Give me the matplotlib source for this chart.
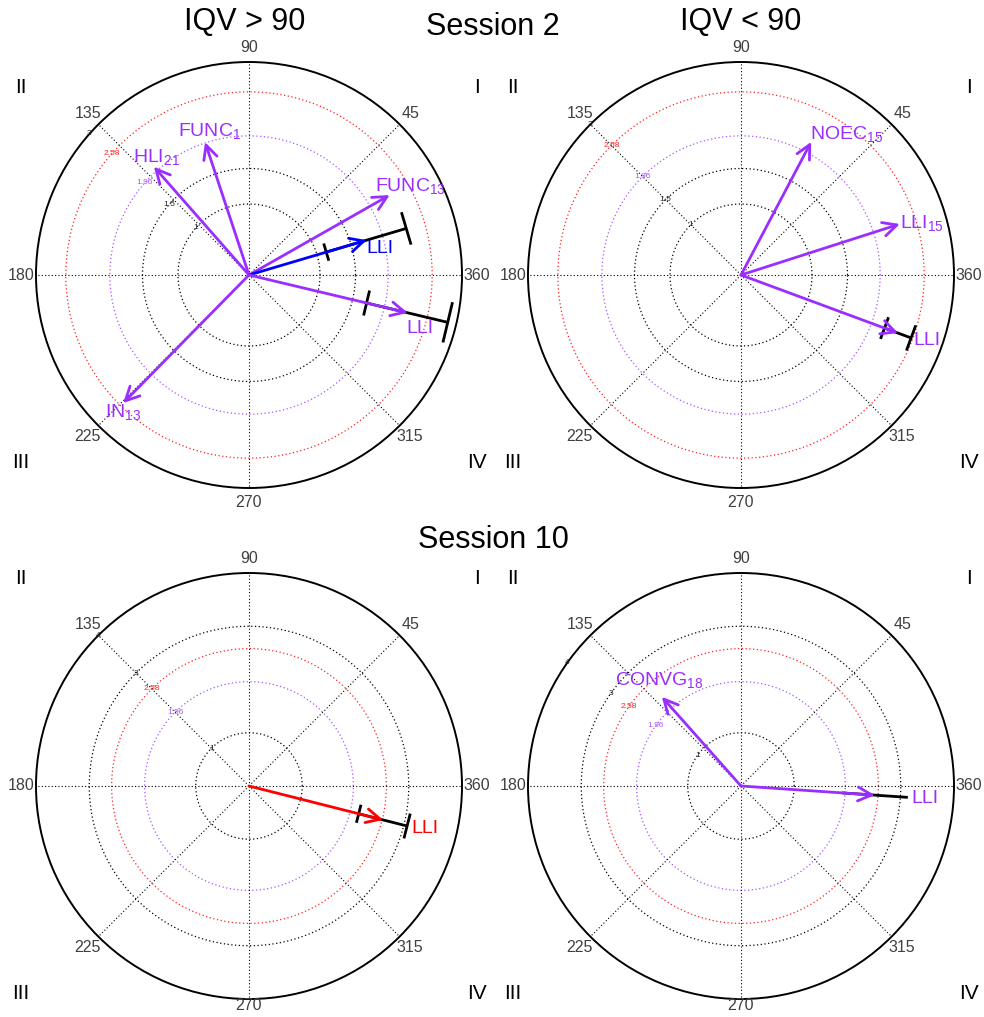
import numpy as np
import matplotlib
matplotlib.use("Agg")
import matplotlib.pyplot as plt

plt.rcParams['font.family'] = ['Liberation Sans', 'DejaVu Sans']
plt.rcParams['mathtext.fontset'] = 'custom'
plt.rcParams['mathtext.rm'] = 'Liberation Sans'
plt.rcParams['mathtext.it'] = 'Liberation Sans'

W, H = 984, 1017
PURPLE = '#9A2EFF'
RING_PURPLE = '#A855FF'
RING_RED = '#FF2020'

# ---- Session 2, IQV > 90 ----
tl_names = ['FUNC', 'HLI', 'FUNC', 'LLI', 'LLI', 'IN']
tl_subs = ['1', '21', '13', '', '', '13']
tl_angle = [108.3, 131.3, 29.6, 16.5, -13.4, 225.5]
tl_z = [1.97, 2.03, 2.28, 1.73, 2.30, 2.53]
tl_err = [0, 0, 0, 0.59, 0.59, 0]
tl_color = [PURPLE, PURPLE, PURPLE, 'blue', PURPLE, PURPLE]

# ---- Session 2, IQV < 90 ----
tr_names = ['NOEC', 'LLI', 'LLI']
tr_subs = ['15', '15', '']
tr_angle = [62.2, 17.8, -20.3]
tr_z = [2.12, 2.35, 2.36]
tr_err = [0, 0, 0.20]
tr_color = [PURPLE, PURPLE, PURPLE]

# ---- Session 10, IQV > 90 ----
bl_names = ['LLI']
bl_subs = ['']
bl_angle = [-14.2]
bl_z = [2.60]
bl_err = [0.47]
bl_color = ['red']

# ---- Session 10, IQV < 90 ----
br_names = ['CONVG', 'LLI']
br_subs = ['18', '']
br_angle = [131.6, -3.9]
br_z = [2.24, 2.52]
br_err = [0, 0.62]
br_color = [PURPLE, PURPLE]

# reference circles (z thresholds) for each row
top_rings = [1, 1.5, 1.96, 2.58]
top_ring_colors = ['k', 'k', RING_PURPLE, RING_RED]
top_rmax = 3
bot_rings = [1, 1.96, 2.58, 3]
bot_ring_colors = ['k', RING_PURPLE, RING_RED, 'k']
bot_rmax = 4

angle_ticks = [45, 90, 135, 180, 225, 270, 315, 360]
quadrants = ['I', 'II', 'III', 'IV']

R_PX = 213

fig = plt.figure(figsize=(W / 100, H / 100), dpi=100)


def to_polar(x, y):
    return np.arctan2(y, x), np.hypot(x, y)


def make_panel(cx, cy, rmax, rings, ring_colors, names, subs, angles, zs, errs,
               colors, label_xy, ring_lab_angle, cap_half, quad_y, bottom_lab):
    ax = fig.add_axes([(cx - R_PX) / W, (H - cy - R_PX) / H,
                       2 * R_PX / W, 2 * R_PX / H], projection='polar')
    ax.set_ylim(0, rmax)
    ax.set_xticks([])
    ax.set_yticks([])
    ax.grid(False)
    ax.patch.set_alpha(0)
    ax.spines['polar'].set_linewidth(1.4)

    th = np.linspace(0, 2 * np.pi, 721)
    for r, c in zip(rings, ring_colors):
        ax.plot(th, np.full_like(th, r), ls=(0, (1, 2)), color=c, lw=0.9)
    for a in range(0, 360, 45):
        t = np.radians(a)
        ax.plot([t, t], [0, rmax], ls=(0, (1, 2)), color='k', lw=0.8)

    # ring values along one spoke
    for r, c in zip(rings + [rmax], ring_colors + ['k']):
        col = {'k': '#222222'}.get(c, c)
        ax.text(np.radians(ring_lab_angle), r, '%g' % r, fontsize=6,
                color=col, ha='center', va='center')

    # angle labels
    for a in angle_ticks:
        rr = rmax * (bottom_lab if a == 270 else 1.07)
        ax.text(np.radians(a), rr, str(a), fontsize=11.5,
                color='#404040', ha='center', va='center')

    # quadrant numerals
    for q, (sx, sy) in zip(quadrants, [(1, 1), (-1, 1), (-1, -1), (1, -1)]):
        t, r = to_polar(sx * rmax * 1.07, sy * rmax * quad_y)
        ax.text(t, r, q, fontsize=15, ha='center', va='center')

    # vectors with confidence bars
    for i in range(len(zs)):
        t = np.radians(angles[i])
        z = zs[i]
        e = errs[i]
        if e > 0:
            ax.plot([t, t], [z - e, z + e], color='k', lw=2, zorder=3,
                    solid_capstyle='butt')
            if cap_half > 0:
                d = np.radians(cap_half)
                for rr in (z - e, z + e):
                    ax.plot([t - d, t + d], [rr, rr], color='k', lw=2, zorder=3)
        ax.annotate('', xy=(t, z), xytext=(t, 0),
                    arrowprops=dict(arrowstyle='->,head_length=0.4,head_width=0.2',
                                    color=colors[i], lw=2, shrinkA=0, shrinkB=0,
                                    mutation_scale=25), zorder=4)
        lx, ly = label_xy[i]
        lt, lr = to_polar(lx, ly)
        txt = names[i] + (r'$_{%s}$' % subs[i] if subs[i] else '')
        ax.text(lt, lr, txt, fontsize=14, color=colors[i], ha='center',
                va='center', zorder=5)
    return ax


# text anchors for vector names (x, y in z units)
tl_lab = [(-0.55, 2.03), (-1.30, 1.66), (2.27, 1.25), (1.85, 0.37),
          (2.41, -0.75), (-1.77, -1.93)]
tr_lab = [(1.49, 1.99), (2.55, 0.73), (2.62, -0.92)]
bl_lab = [(3.31, -0.79)]
br_lab = [(-1.54, 1.99), (3.46, -0.24)]

make_panel(249, 275, top_rmax, top_rings, top_ring_colors, tl_names, tl_subs,
           tl_angle, tl_z, tl_err, tl_color, tl_lab, 138.5, 5.4, 0.88, 1.07)
make_panel(741, 275, top_rmax, top_rings, top_ring_colors, tr_names, tr_subs,
           tr_angle, tr_z, tr_err, tr_color, tr_lab, 135, 3.8, 0.88, 1.07)
make_panel(249, 786, bot_rmax, bot_rings, bot_ring_colors, bl_names, bl_subs,
           bl_angle, bl_z, bl_err, bl_color, bl_lab, 135, 4.0, 0.975, 1.03)
make_panel(741, 786, bot_rmax, bot_rings, bot_ring_colors, br_names, br_subs,
           br_angle, br_z, br_err, br_color, br_lab, 144.5, 0, 0.975, 1.03)

fig.text(245 / W, 1 - 22 / H, 'IQV > 90', fontsize=22, ha='center', va='center')
fig.text(493 / W, 1 - 27 / H, 'Session 2', fontsize=22, ha='center', va='center')
fig.text(741 / W, 1 - 22 / H, 'IQV < 90', fontsize=22, ha='center', va='center')
fig.text(493 / W, 1 - 540 / H, 'Session 10', fontsize=22, ha='center', va='center')

fig.savefig('out.png', dpi=100)
